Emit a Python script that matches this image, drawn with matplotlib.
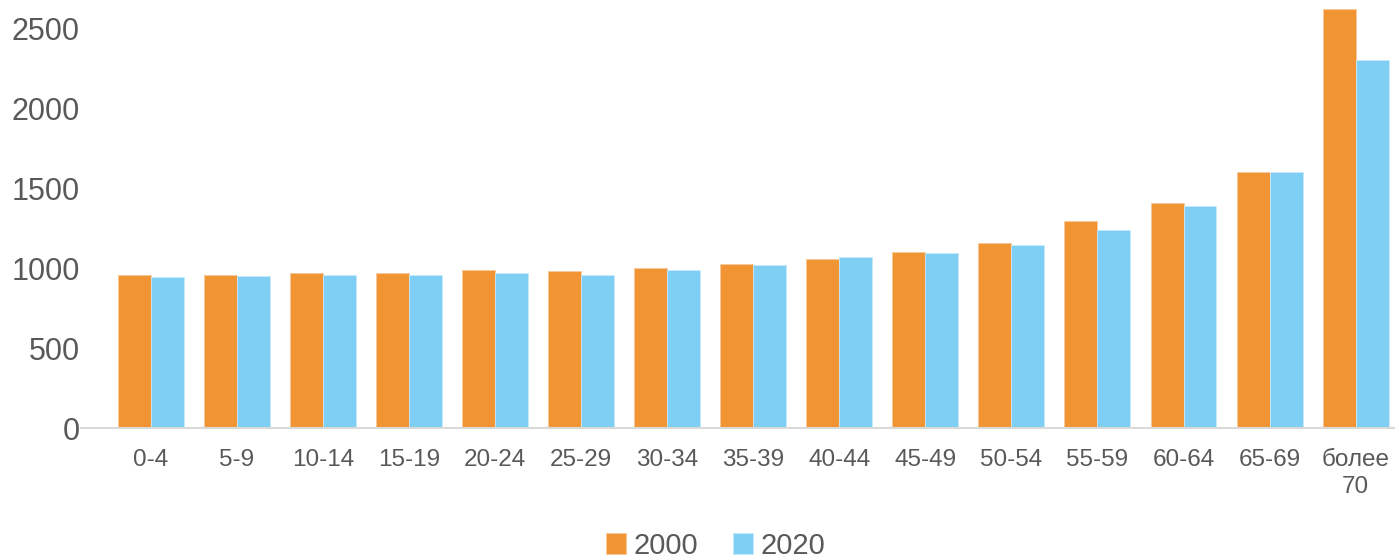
import matplotlib.pyplot as plt
import numpy as np

plt.rcParams["font.family"] = ["Liberation Sans", "DejaVu Sans"]

# Age groups and values for the two years
AGE_GROUPS = ["0-4", "5-9", "10-14", "15-19", "20-24", "25-29", "30-34", "35-39",
              "40-44", "45-49", "50-54", "55-59", "60-64", "65-69", "более\n70"]
VALUES_2000 = [958, 958, 971, 971, 988, 984, 1002, 1028, 1059, 1103, 1159, 1297,
               1410, 1604, 2625]
VALUES_2020 = [946, 952, 958, 958, 971, 958, 990, 1021, 1071, 1096, 1147, 1241,
               1391, 1604, 2306]
YEARS = ["2000", "2020"]

ORANGE = "#F19433"
BLUE = "#7FCEF3"
TEXT = "#595959"

fig = plt.figure(figsize=(13.95, 5.58), dpi=100)
ax = fig.add_axes([81 / 1395, 1 - 428 / 558, 1 - 81 / 1395, 428 / 558])

x = np.arange(len(AGE_GROUPS))
w = 0.383
ax.bar(x - w / 2, VALUES_2000, w, color=ORANGE, edgecolor="#F7C89A",
       linewidth=0.6, label=YEARS[0])
ax.bar(x + w / 2, VALUES_2020, w, color=BLUE, edgecolor="#C8EAFA",
       linewidth=0.6, label=YEARS[1])

ax.set_xlim(-0.81, 14.457)
ax.set_ylim(0, 2500 * 428 / 399)
ax.set_yticks([0, 500, 1000, 1500, 2000, 2500])
ax.set_xticks(x)
ax.set_xticklabels(AGE_GROUPS, fontsize=17.5, color=TEXT, linespacing=1.3)
ax.tick_params(axis="y", length=0, pad=1, labelsize=22, labelcolor=TEXT)
ax.tick_params(axis="x", length=0, pad=15)

for side in ["top", "right", "left"]:
    ax.spines[side].set_visible(False)
ax.spines["bottom"].set_color("#D9D9D9")
ax.spines["bottom"].set_linewidth(1.5)

fig.legend(loc="lower center", bbox_to_anchor=(0.513, -0.05), ncol=2,
           frameon=False, fontsize=21, handlelength=0.7, handleheight=0.7,
           handletextpad=0.25, columnspacing=1.2, labelcolor=TEXT)

fig.savefig("out.png", dpi=100)
